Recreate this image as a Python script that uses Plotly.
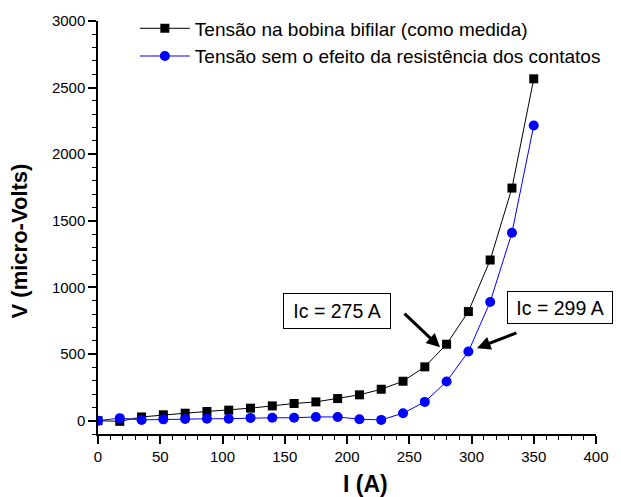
import plotly.graph_objects as go

current = [0, 17.5, 35, 52.5, 70, 87.5, 105, 122.5, 140, 157.5, 175, 192.5,
           210, 227.5, 245, 262.5, 280, 297.5, 315, 332.5, 350]
v_measured = [0, -5, 28, 44, 56, 69, 79, 94, 111, 129, 141, 166,
              194, 236, 296, 404, 574, 819, 1206, 1746, 2566]
v_corrected = [0, 19, 6, 10, 12, 14, 15, 21, 22, 22, 28, 28,
               11, 6, 56, 141, 294, 519, 891, 1411, 2216]

name_measured = "Tensão na bobina bifilar (como medida)"
name_corrected = "Tensão sem o efeito da resistência dos contatos"

ann_labels = ["Ic = 275 A", "Ic = 299 A"]
ann_box = [(192, 821), (370.7, 851)]
ann_size = [(106, 34), (104, 31)]
ann_head = [(274.7, 551), (304.4, 544)]
ann_tail = [(245, 814), (337.3, 664)]

x_title = "<b>I (A)</b>"
y_title = "<b>V (micro-Volts)</b>"

FONT = "Liberation Sans, Arial, sans-serif"

fig = go.Figure()
fig.add_trace(go.Scatter(
    x=current, y=v_measured, name=name_measured, mode="lines+markers",
    line=dict(color="black", width=1),
    marker=dict(symbol="square", size=9, color="black"),
))
fig.add_trace(go.Scatter(
    x=current, y=v_corrected, name=name_corrected, mode="lines+markers",
    line=dict(color="blue", width=1),
    marker=dict(symbol="circle", size=10, color="blue"),
))

for lab, (bx, by), (w, h) in zip(ann_labels, ann_box, ann_size):
    fig.add_annotation(x=bx, y=by, xref="x", yref="y", text=lab, showarrow=False,
                       font=dict(family=FONT, size=19.5, color="black"),
                       bordercolor="black", borderwidth=1, borderpad=0,
                       width=w, height=h, bgcolor="white")
for (hx, hy), (tx, ty) in zip(ann_head, ann_tail):
    fig.add_annotation(x=hx, y=hy, ax=tx, ay=ty, xref="x", yref="y",
                       axref="x", ayref="y", text="", showarrow=True,
                       arrowhead=2, arrowsize=0.9, arrowwidth=3, arrowcolor="black")

# axis titles
fig.add_annotation(x=0.538, y=-0.121, xref="paper", yref="paper", text=x_title,
                   showarrow=False, font=dict(family=FONT, size=23, color="black"),
                   xanchor="center", yanchor="middle")
fig.add_annotation(x=-0.158, y=0.467, xref="paper", yref="paper", text=y_title,
                   showarrow=False, textangle=-90,
                   font=dict(family=FONT, size=22, color="black"),
                   xanchor="center", yanchor="middle")

fig.update_layout(
    width=621, height=497,
    margin=dict(l=90, r=33, t=13, b=71, autoexpand=False),
    paper_bgcolor="white", plot_bgcolor="white",
    font=dict(family=FONT, size=15, color="black"),
    showlegend=True,
    legend=dict(x=0.074, y=1.028, xanchor="left", yanchor="top",
                bgcolor="rgba(0,0,0,0)", font=dict(size=19),
                tracegroupgap=0, itemwidth=50),
    xaxis=dict(range=[0, 400], tickmode="linear", tick0=0, dtick=50,
               ticks="outside", ticklen=8, tickwidth=1.5, tickcolor="black",
               showline=True, linecolor="black", linewidth=1.5,
               showgrid=False, zeroline=False, automargin=False,
               minor=dict(dtick=10, ticks="outside", ticklen=4, tickcolor="black", tickwidth=1, showgrid=False),
               tickfont=dict(size=15)),
    yaxis=dict(range=[-100, 3000], tickmode="linear", tick0=0, dtick=500,
               ticks="outside", ticklen=8, tickwidth=1.5, tickcolor="black",
               showline=True, linecolor="black", linewidth=1.5,
               showgrid=False, zeroline=False, automargin=False,
               minor=dict(dtick=100, ticks="outside", ticklen=4, tickcolor="black", tickwidth=1, showgrid=False),
               tickfont=dict(size=15)),
)

fig.write_html("out.html")
